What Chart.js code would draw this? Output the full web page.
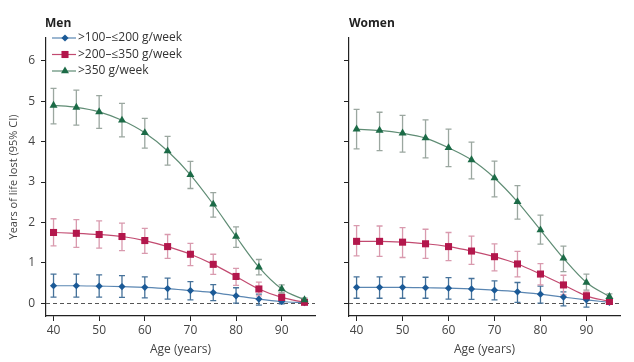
<!DOCTYPE html>
<html>
<head>
<meta charset="utf-8">
<script src="https://cdn.jsdelivr.net/npm/chart.js@4"></script>
<style>
  html, body { margin: 0; padding: 0; background: #fff; }
  #wrap { position: relative; width: 634px; height: 362px; font-family: "Open Sans", sans-serif; }
  .panel { position: absolute; top: 0; height: 362px; }
  .title { position: absolute; top: 14px; font-weight: bold; font-size: 12px; color: #222; }
</style>
</head>
<body>
<div id="wrap">
  <div class="panel" style="left:0;width:320px"><canvas id="menChart" width="320" height="362"></canvas></div>
  <div class="panel" style="left:320px;width:314px"><canvas id="womenChart" width="314" height="362"></canvas></div>
  <div class="title" style="left:45px">Men</div>
  <div class="title" style="left:349px">Women</div>
</div>
<script>
// Data
const ages = [40, 45, 50, 55, 60, 65, 70, 75, 80, 85, 90, 95];
const xTicks = [40, 50, 60, 70, 80, 90];
const yTicks = [0, 1, 2, 3, 4, 5, 6];
const seriesLabels = ['>100–≤200 g/week', '>200–≤350 g/week', '>350 g/week'];

// Men
const menLight   = [0.43, 0.43, 0.42, 0.41, 0.39, 0.36, 0.31, 0.26, 0.18, 0.10, 0.04, 0.01];
const menLightLo = [0.15, 0.15, 0.15, 0.14, 0.13, 0.10, 0.08, 0.06, 0.00, -0.05, -0.02, -0.03];
const menLightHi = [0.72, 0.72, 0.70, 0.68, 0.65, 0.62, 0.53, 0.46, 0.38, 0.22, 0.12, 0.05];
const menMid     = [1.75, 1.73, 1.70, 1.65, 1.55, 1.40, 1.21, 0.96, 0.66, 0.35, 0.14, 0.02];
const menMidLo   = [1.42, 1.38, 1.36, 1.30, 1.23, 1.11, 0.93, 0.71, 0.44, 0.18, 0.03, -0.03];
const menMidHi   = [2.09, 2.07, 2.04, 1.98, 1.85, 1.70, 1.48, 1.21, 0.86, 0.52, 0.25, 0.08];
const menHeavy   = [4.90, 4.85, 4.74, 4.53, 4.22, 3.77, 3.18, 2.45, 1.65, 0.89, 0.35, 0.08];
const menHeavyLo = [4.44, 4.41, 4.33, 4.12, 3.84, 3.42, 2.84, 2.13, 1.38, 0.70, 0.25, 0.03];
const menHeavyHi = [5.32, 5.28, 5.14, 4.95, 4.58, 4.13, 3.51, 2.74, 1.89, 1.08, 0.45, 0.13];

// Women
const womenLight   = [0.39, 0.39, 0.39, 0.38, 0.37, 0.35, 0.32, 0.28, 0.22, 0.15, 0.08, 0.02];
const womenLightLo = [0.12, 0.12, 0.12, 0.12, 0.10, 0.09, 0.08, 0.02, 0.00, -0.07, -0.10, -0.03];
const womenLightHi = [0.65, 0.65, 0.65, 0.64, 0.63, 0.61, 0.55, 0.51, 0.42, 0.28, 0.17, 0.08];
const womenMid     = [1.53, 1.53, 1.51, 1.47, 1.40, 1.29, 1.15, 0.97, 0.72, 0.45, 0.18, 0.04];
const womenMidLo   = [1.17, 1.16, 1.13, 1.11, 1.05, 0.96, 0.80, 0.65, 0.45, 0.20, 0.08, -0.02];
const womenMidHi   = [1.92, 1.91, 1.87, 1.83, 1.75, 1.66, 1.47, 1.28, 0.98, 0.69, 0.28, 0.10];
const womenHeavy   = [4.31, 4.28, 4.21, 4.09, 3.85, 3.55, 3.10, 2.51, 1.81, 1.11, 0.51, 0.16];
const womenHeavyLo = [3.82, 3.78, 3.74, 3.60, 3.38, 3.08, 2.63, 2.08, 1.46, 0.78, 0.32, 0.08];
const womenHeavyHi = [4.80, 4.73, 4.65, 4.54, 4.31, 3.99, 3.52, 2.91, 2.18, 1.41, 0.72, 0.23];

// Styles per series: light, mid, heavy
const markColors = ['#1b5a97', '#b3174c', '#1c6b47'];
const lineColors = ['#5a86b2', '#c24a70', '#5f8c74'];
const errColors  = ['#46729a', '#d99aae', '#9ba7a0'];
const pointStyles = ['rectRot', 'rect', 'triangle'];
const pointRadii = [3.6, 5, 4.6];

const FONT = '"Open Sans", sans-serif';

function makeDatasets(values, los, his) {
    return values.map((vals, s) => ({
        label: seriesLabels[s],
        data: ages.map((a, i) => ({ x: a, y: vals[i] })),
        errLo: los[s],
        errHi: his[s],
        errColor: errColors[s],
        borderColor: lineColors[s],
        borderWidth: 1.2,
        backgroundColor: markColors[s],
        pointBackgroundColor: markColors[s],
        pointBorderColor: markColors[s],
        pointBorderWidth: 0,
        pointStyle: pointStyles[s],
        pointRadius: pointRadii[s],
        cubicInterpolationMode: 'monotone',
        order: 3 - s
    }));
}

// Error bars + dashed zero line, drawn behind the points
const errorBars = {
    id: 'errorBars',
    beforeDatasetsDraw(chart) {
        const { ctx, chartArea, scales: { x, y } } = chart;
        ctx.save();
        ctx.strokeStyle = '#555';
        ctx.lineWidth = 1;
        ctx.setLineDash([4, 3]);
        const y0 = Math.round(y.getPixelForValue(0)) + 0.5;
        ctx.beginPath();
        ctx.moveTo(chartArea.left, y0);
        ctx.lineTo(chartArea.right, y0);
        ctx.stroke();
        ctx.setLineDash([]);
        chart.data.datasets.forEach(ds => {
            ctx.strokeStyle = ds.errColor;
            ctx.lineWidth = 1.3;
            ds.data.forEach((p, i) => {
                const px = x.getPixelForValue(p.x);
                const lo = y.getPixelForValue(ds.errLo[i]);
                const hi = y.getPixelForValue(ds.errHi[i]);
                ctx.beginPath();
                ctx.moveTo(px, lo); ctx.lineTo(px, hi);
                ctx.moveTo(px - 3, lo); ctx.lineTo(px + 3, lo);
                ctx.moveTo(px - 3, hi); ctx.lineTo(px + 3, hi);
                ctx.stroke();
            });
        });
        ctx.restore();
    }
};

// Legend in the top-left corner of the Men panel
const cornerLegend = {
    id: 'cornerLegend',
    afterDraw(chart) {
        const { ctx } = chart;
        ctx.save();
        ctx.font = '12px ' + FONT;
        ctx.textBaseline = 'middle';
        seriesLabels.forEach((label, s) => {
            const yy = 38 + s * 16.5;
            ctx.strokeStyle = lineColors[s];
            ctx.lineWidth = 1.2;
            ctx.beginPath();
            ctx.moveTo(52, yy); ctx.lineTo(76, yy);
            ctx.stroke();
            ctx.fillStyle = markColors[s];
            ctx.strokeStyle = markColors[s];
            Chart.helpers.drawPoint(ctx, { pointStyle: pointStyles[s], radius: pointRadii[s], borderWidth: 0 }, 65, yy);
            ctx.fillStyle = '#333';
            ctx.fillText(label, 78, yy);
        });
        ctx.restore();
    }
};

function makeChart(canvas, datasets, showYLabels, yWidth, padRight, extraPlugins) {
    return new Chart(canvas, {
        type: 'line',
        data: { datasets },
        options: {
            responsive: false,
            animation: false,
            layout: { padding: { top: 38, right: padRight, left: 0, bottom: 0 } },
            scales: {
                x: {
                    type: 'linear',
                    min: 38.35,
                    max: 97.3,
                    afterBuildTicks: sc => { sc.ticks = xTicks.map(v => ({ value: v })); },
                    afterFit: sc => { sc.height = 46; },
                    grid: { drawOnChartArea: false, drawTicks: true, tickLength: 5, color: '#222' },
                    border: { display: true, color: '#222', width: 1.2 },
                    ticks: { color: '#444', font: { family: FONT, size: 12 }, padding: 2 },
                    title: { display: true, text: 'Age (years)', color: '#444', font: { family: FONT, size: 12 }, padding: { top: 0, bottom: 5 } }
                },
                y: {
                    min: -0.32,
                    max: 6.57,
                    afterBuildTicks: sc => { sc.ticks = yTicks.map(v => ({ value: v })); },
                    afterFit: sc => { sc.width = yWidth; },
                    grid: { drawOnChartArea: false, drawTicks: true, tickLength: 5, color: '#222' },
                    border: { display: true, color: '#222', width: 1.2 },
                    ticks: { display: showYLabels, color: '#444', font: { family: FONT, size: 12 }, padding: 6 },
                    title: { display: showYLabels, text: 'Years of life lost (95% CI)', color: '#444', font: { family: FONT, size: 11 }, padding: { top: 7, bottom: 0 } }
                }
            },
            plugins: {
                legend: { display: false },
                tooltip: { enabled: false }
            }
        },
        plugins: [errorBars].concat(extraPlugins)
    });
}

makeChart(document.getElementById('menChart'),
    makeDatasets([menLight, menMid, menHeavy], [menLightLo, menMidLo, menHeavyLo], [menLightHi, menMidHi, menHeavyHi]),
    true, 46, 3, [cornerLegend]);

makeChart(document.getElementById('womenChart'),
    makeDatasets([womenLight, womenMid, womenHeavy], [womenLightLo, womenMidLo, womenHeavyLo], [womenLightHi, womenMidHi, womenHeavyHi]),
    false, 29, 14, []);
</script>
</body>
</html>
